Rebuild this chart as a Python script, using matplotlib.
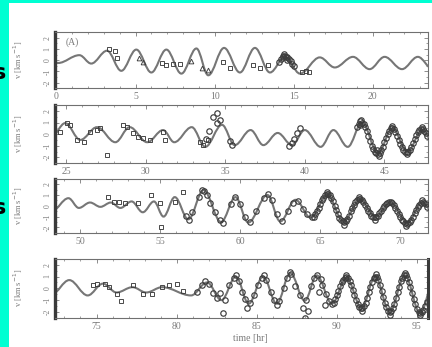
import numpy as np
import matplotlib.pyplot as plt
from matplotlib.path import Path
from matplotlib.patches import PathPatch, Rectangle

plt.rcParams['font.family'] = ['Liberation Serif', 'DejaVu Serif']

# model curve: turning points (time [hr], v [km/s])
p1_t = [-0.4, 0.1, 1.45, 2.2, 3.2, 4.1, 5.05, 6.0, 6.95, 7.9, 8.85, 9.6, 10.6, 11.6, 12.55, 13.5,
        14.45, 15.4, 16.65, 17.6, 18.75, 19.8, 20.75, 21.85, 22.85, 23.8]
p1_v = [0.1, -0.25, 0.45, -0.3, 0.85, -0.95, 0.95, -1.1, 0.95, -1.2, 1.05, -1.35, 1.1, -1.1, 1.1, -1.1,
        0.3, -1.2, 0.25, -0.65, 0.3, -0.8, 0.3, -0.8, 0.3, -0.8]
p2_t = [24.1, 24.95, 25.9, 26.95, 28.1, 29.0, 30.1, 31.1, 31.8, 32.9, 33.75, 34.8, 35.6, 36.6, 37.4,
        38.3, 39.2, 40.0, 41.0, 41.8, 42.7, 43.6, 44.6, 45.5, 46.45, 47.4, 48.3]
p2_v = [-0.2, 0.95, -0.5, 0.6, -0.7, 0.6, -0.7, 0.35, -0.7, 0.6, -1.1, 0.8, -0.95, 0.35, -0.95,
        0.1, -0.95, 0.35, -1.1, 0.35, -1.1, 1.0, -1.65, 0.5, -1.5, 0.4, -1.5]
p3_t = [48.2, 49.25, 49.9, 50.6, 51.25, 51.9, 52.5, 53.2, 53.9, 54.6, 55.2, 55.9, 56.75, 57.7, 58.8,
        59.7, 60.5, 61.7, 62.5, 63.45, 64.4, 65.45, 66.45, 67.5, 68.45, 69.4, 70.45, 71.4, 72.3]
p3_v = [-0.5, 0.7, -0.2, 0.3, -0.1, 0.3, -0.2, 0.4, -0.6, 0.4, -1.0, 0.8, -1.25, 1.45, -1.5,
        0.8, -1.55, 1.0, -1.45, 0.55, -1.1, 1.0, -1.45, 0.55, -1.0, 0.3, -1.55, 0.3, -1.2]
p4_t = [72.2, 73.3, 74.45, 75.4, 76.25, 77.25, 78.1, 79.1, 80.9, 81.9, 82.8, 83.7, 84.5, 85.4, 86.25,
        87.1, 88.0, 88.75, 89.7, 90.6, 91.55, 92.4, 93.3, 94.25, 95.2, 96.1]
p4_v = [-0.5, 0.7, -0.6, 0.4, -0.35, 0.1, -0.35, 0.1, -0.6, 0.5, -1.0, 1.0, -1.3, 1.0, -1.3,
        1.3, -1.05, 1.1, -1.3, 0.9, -1.65, 1.0, -2.0, 1.1, -2.1, 0.8]

# observed points: squares, triangles, circles
sq1_t = [3.35, 3.7, 3.85, 6.7, 6.95, 7.35, 7.8, 10.5, 10.95, 12.4, 12.85, 13.35, 15.5, 15.75, 16.0]
sq1_v = [1.0, 0.85, 0.2, -0.25, -0.4, -0.3, -0.3, -0.2, -0.7, -0.4, -0.7, -0.4, -1.1, -1.0, -1.1]
tr1_t = [5.25, 5.45, 8.5, 9.2, 9.6]
tr1_v = [0.2, -0.15, -0.1, -0.7, -0.9]
ci1_t = [14.1, 14.2, 14.3, 14.35, 14.45, 14.5, 14.6, 14.7, 14.8, 14.9, 15.0, 14.4, 14.55]
ci1_v = [-0.2, 0.1, 0.3, 0.35, 0.4, 0.3, 0.25, 0.1, -0.1, -0.3, -0.5, 0.6, 0.0]

sq2_t = [24.6, 25.05, 25.25, 25.7, 26.1, 26.5, 26.95, 27.15, 27.6, 28.6, 28.85, 29.2, 29.5, 29.85,
         30.3, 31.1, 31.2, 33.4, 33.6, 33.9]
sq2_v = [0.15, 0.95, 0.8, -0.5, -0.7, 0.15, 0.35, 0.5, -1.8, 0.8, 0.6, 0.1, -0.25, -0.35,
         -0.5, 0.15, -0.5, -0.7, -0.95, -0.5]
ci2_t = [34.25, 34.5, 34.5, 34.7, 34.0, 33.8, 35.45, 35.3, 39.2, 39.5, 39.7, 39.35, 39.0,
         43.3, 43.4, 43.5, 43.6, 43.7, 43.8, 43.9, 44.0, 44.1, 44.2, 44.3, 44.4, 44.5, 44.6, 44.7,
         44.8, 44.9, 45.0, 45.1, 45.2, 45.3, 45.4, 45.5, 45.6, 45.7, 45.8, 45.9, 46.0, 46.1, 46.2,
         46.3, 46.4, 46.5, 46.6, 46.7, 46.8, 46.9, 47.0, 47.1, 47.2, 47.3, 47.4, 47.5, 47.6, 47.7,
         43.55, 43.45, 44.55, 44.65, 45.45, 46.45, 47.35]
ci2_v = [1.45, 1.8, 1.0, 1.2, 0.3, -0.4, -0.95, -0.6, -0.8, 0.1, 0.5, -0.4, -1.0,
         0.6, 0.9, 1.1, 1.0, 0.9, 0.6, 0.3, -0.2, -0.6, -1.0, -1.3, -1.5, -1.6, -1.7, -1.6,
         -1.4, -1.1, -0.7, -0.3, 0.0, 0.3, 0.5, 0.55, 0.45, 0.2, -0.15, -0.5, -0.85, -1.1, -1.35,
         -1.5, -1.55, -1.5, -1.35, -1.1, -0.75, -0.4, -0.1, 0.15, 0.35, 0.45, 0.4, 0.3, 0.1, -0.2,
         1.25, 0.75, -1.4, -1.9, 0.7, -1.75, 0.6]

sq3_t = [51.7, 52.1, 52.4, 52.8, 53.6, 54.4, 55.0, 55.05, 55.9, 56.4]
sq3_v = [0.8, 0.35, 0.35, 0.3, 0.3, 1.0, 0.3, -2.0, 0.35, 1.3]
ci3_t = [56.6, 56.8, 57.0, 57.4, 57.6, 57.75, 57.9, 58.1, 58.4, 58.7, 58.9, 59.4, 59.7, 60.0, 60.3,
         60.6, 61.0, 61.5, 61.75, 62.0, 62.3, 62.6, 63.0, 63.3, 63.6, 63.9, 64.2, 64.5,
         64.6, 64.7, 64.8, 64.9, 65.0, 65.1, 65.2, 65.3, 65.4, 65.5, 65.6, 65.7, 65.8, 65.9, 66.0,
         66.1, 66.2, 66.3, 66.4, 66.5, 66.6, 66.7, 66.8, 66.9, 67.0, 67.1, 67.2, 67.3, 67.4, 67.5,
         67.6, 67.7, 67.8, 67.9, 68.0, 68.1, 68.2, 68.3, 68.4, 68.5, 68.6, 68.7, 68.8, 68.9, 69.0,
         69.1, 69.2, 69.3, 69.4, 69.5, 69.6, 69.7, 69.8, 69.9, 70.0, 70.1, 70.2, 70.3, 70.4, 70.5,
         70.6, 70.7, 70.8, 70.9, 71.0, 71.1, 71.2, 71.3, 71.4, 71.5, 71.6, 71.7,
         65.45, 66.5, 67.45, 68.4, 70.35, 71.35]
ci3_v = [-0.9, -1.3, -0.6, 0.8, 1.5, 1.4, 1.0, 0.3, -0.6, -1.3, -1.6, 0.2, 0.85, 0.2, -1.0,
         -1.5, -0.5, 0.7, 1.1, 0.5, -0.8, -1.4, -0.5, 0.3, 0.4, -0.3, -0.8, -1.0,
         -1.0, -0.8, -0.5, -0.2, 0.2, 0.5, 0.75, 0.95, 1.05, 1.1, 0.95, 0.7, 0.4, 0.0, -0.4,
         -0.8, -1.1, -1.35, -1.45, -1.5, -1.4, -1.2, -0.9, -0.5, -0.2, 0.1, 0.35, 0.5, 0.6, 0.6,
         0.5, 0.35, 0.1, -0.2, -0.5, -0.7, -0.9, -1.0, -1.05, -1.0, -0.9, -0.7, -0.45, -0.2, 0.0,
         0.15, 0.3, 0.35, 0.35, 0.3, 0.1, -0.2, -0.5, -0.8, -1.05, -1.3, -1.45, -1.6, -1.65, -1.6,
         -1.5, -1.3, -1.0, -0.7, -0.4, -0.15, 0.1, 0.25, 0.35, 0.3, 0.15, -0.1,
         1.3, -1.75, 0.85, -1.3, -1.85, 0.55]

sq4_t = [74.75, 75.05, 75.5, 75.8, 76.25, 76.55, 77.25, 77.9, 78.45, 79.1, 79.55, 80.0, 80.4]
sq4_v = [0.25, 0.4, 0.4, 0.1, -0.45, -1.05, 0.25, -0.45, -0.45, 0.1, 0.25, 0.4, -0.2]
ci4_t = [81.3, 81.6, 81.8, 82.0, 82.3, 82.5, 82.7, 82.9, 83.0, 83.3, 83.6, 83.7, 83.9, 84.1, 84.3,
         84.4, 84.6, 84.8, 85.1, 85.3, 85.45, 85.6, 85.9, 86.1, 86.25, 86.4, 86.7, 86.9, 87.05,
         87.15, 87.4, 87.7, 87.9, 88.0, 88.2, 88.1, 88.4, 88.6, 88.75, 88.9, 89.05, 89.25, 89.0,
         89.3, 89.5, 89.7,
         89.8, 89.9, 90.0, 90.1, 90.2, 90.3, 90.4, 90.5, 90.6, 90.7, 90.8, 90.9, 91.0, 91.1, 91.2,
         91.3, 91.4, 91.5, 91.6, 91.7, 91.8, 91.9, 92.0, 92.1, 92.2, 92.3, 92.4, 92.5, 92.6, 92.7,
         92.8, 92.9, 93.0, 93.1, 93.2, 93.3, 93.4, 93.5, 93.6, 93.7, 93.8, 93.9, 94.0, 94.1, 94.2,
         94.3, 94.4, 94.5, 94.6, 94.7, 94.8, 94.9, 95.0, 95.1, 95.2, 95.3, 95.4, 95.5, 95.6,
         90.55, 91.55, 92.45, 93.35, 94.25, 95.2]
ci4_v = [-0.3, 0.3, 0.6, 0.4, -0.4, -0.8, -0.4, -2.05, -1.0, 0.3, 0.9, 1.1, 0.6, -0.3, -0.9,
         -1.7, -1.2, -0.6, 0.3, 0.9, 1.1, 0.7, -0.3, -1.0, -1.4, -1.1, 0.0, 0.9, 1.4,
         1.2, 0.2, -0.6, -1.65, -2.5, -1.9, -1.0, 0.2, 0.9, 1.15, -0.35, 0.25, -1.45, 0.8,
         -0.5, -1.1, -1.3,
         -1.2, -0.9, -0.6, -0.2, 0.2, 0.5, 0.75, 0.9, 0.95, 0.85, 0.6, 0.25, -0.15, -0.55, -0.95,
         -1.3, -1.55, -1.65, -1.65, -1.5, -1.2, -0.8, -0.35, 0.1, 0.5, 0.85, 1.0, 0.95, 0.7, 0.3,
         -0.2, -0.7, -1.2, -1.6, -1.9, -2.0, -1.95, -1.7, -1.3, -0.85, -0.35, 0.15, 0.6, 0.9, 1.1,
         1.1, 0.9, 0.55, 0.1, -0.4, -0.9, -1.35, -1.75, -2.0, -2.1, -2.0, -1.8, -1.5, -1.15,
         1.15, -1.9, 1.2, -2.25, 1.3, -2.3]

xlims = [(-0.1, 23.5), (24.3, 47.75), (48.4, 71.75), (72.4, 95.7)]
ylbl = 'v [km s$^{-1}$]'

ink = '#3c3c3c'
txt = '#7a7a7a'


def model_path(ts, vs):
    # smooth wave through the turning points, flat tangent at each one
    verts = [(ts[0], vs[0])]
    codes = [Path.MOVETO]
    for i in range(1, len(ts)):
        dt = ts[i] - ts[i - 1]
        verts += [(ts[i - 1] + 0.36 * dt, vs[i - 1]), (ts[i] - 0.36 * dt, vs[i]), (ts[i], vs[i])]
        codes += [Path.CURVE4] * 3
    return Path(verts, codes)


fig = plt.figure(figsize=(4.32, 3.47), dpi=100, facecolor='#00FFD2')
fig.add_artist(Rectangle((0.021, 0), 0.979, 0.991, transform=fig.transFigure,
                         facecolor='white', edgecolor='none', zorder=-5))
fig.text(0.014, 0.79, 's', ha='right', va='center', fontsize=16, weight='bold',
         family='DejaVu Sans', color='black')
fig.text(0.014, 0.40, 's', ha='right', va='center', fontsize=16, weight='bold',
         family='DejaVu Sans', color='black')

boxes = [[0.127, 0.746, 0.864, 0.161],
         [0.127, 0.530, 0.864, 0.167],
         [0.127, 0.329, 0.864, 0.156],
         [0.127, 0.084, 0.864, 0.170]]

models = [(p1_t, p1_v), (p2_t, p2_v), (p3_t, p3_v), (p4_t, p4_v)]
squares = [(sq1_t, sq1_v), (sq2_t, sq2_v), (sq3_t, sq3_v), (sq4_t, sq4_v)]
circles = [(ci1_t, ci1_v), (ci2_t, ci2_v), (ci3_t, ci3_v), (ci4_t, ci4_v)]

for i in range(4):
    ax = fig.add_axes(boxes[i])
    ax.set_facecolor('white')
    mt, mv = models[i]
    ax.add_patch(PathPatch(model_path(mt, mv), facecolor='none', edgecolor='#767676', lw=1.5, zorder=2))
    st, sv = squares[i]
    ax.plot(st, sv, ls='none', marker='s', ms=3.4, mfc='none', mec=ink, mew=0.65, zorder=3)
    ct, cv = circles[i]
    ax.plot(ct, cv, ls='none', marker='o', ms=3.9, mfc='none', mec=ink, mew=0.85, zorder=3)
    if i == 0:
        ax.plot(tr1_t, tr1_v, ls='none', marker='^', ms=3.4, mfc='none', mec=ink, mew=0.65, zorder=3)
        ax.text(0.03, 0.9, '(A)', transform=ax.transAxes, fontsize=7, color=txt, va='top')
    ax.set_xticks(np.arange(0, 100, 5))
    ax.set_xticks(np.arange(0, 100, 1), minor=True)
    ax.set_yticks([-2, -1, 0, 1, 2])
    ax.set_yticklabels(['-2', '-1', '0', '1', '2'], rotation=90, va='center')
    ax.set_yticks(np.arange(-2.5, 2.6, 0.5), minor=True)
    ax.set_xlim(*xlims[i])
    ax.set_ylim(-2.5, 2.5)
    ax.tick_params(which='both', direction='in', top=True, right=True, colors=txt,
                   labelsize=7, pad=3)
    ax.tick_params(axis='y', labelsize=5.5, pad=2.5)
    ax.tick_params(which='major', length=3, width=0.6)
    ax.tick_params(which='minor', length=1.5, width=0.5)
    for s in ax.spines.values():
        s.set_color('#707070')
        s.set_linewidth(0.8)
    ax.spines['left'].set_color('#3a3a3a')
    ax.spines['left'].set_linewidth(2.4)
    if i == 3:
        ax.spines['right'].set_color('#3a3a3a')
        ax.spines['right'].set_linewidth(2.2)
    ax.set_ylabel(ylbl, fontsize=6, color=txt)
    ax.yaxis.set_label_coords(-0.08, 0.5)

fig.text(0.58, 0.025, 'time [hr]', ha='center', va='center', fontsize=7, color=txt)

plt.savefig('out.png', dpi=100, facecolor=fig.get_facecolor())
